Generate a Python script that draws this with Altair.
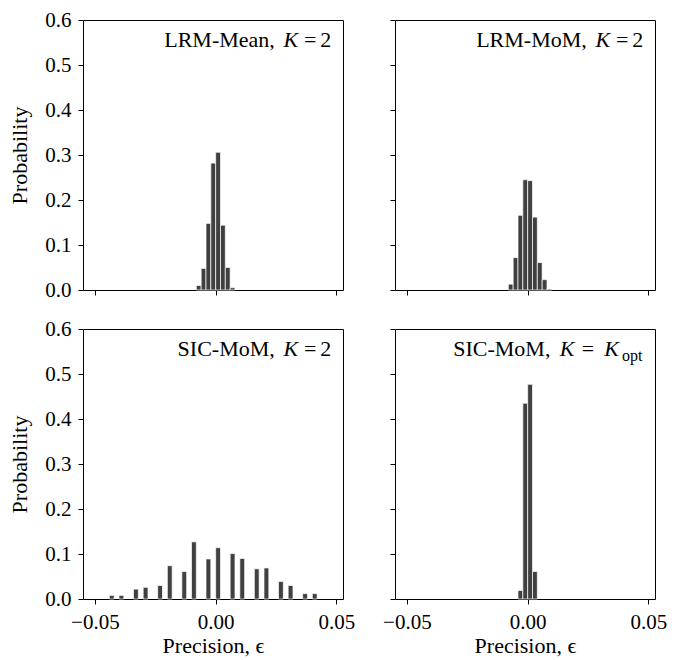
import altair as alt
import pandas as pd

# ---------------- data ----------------
BIN_WIDTH = 0.002

lrm_mean_lo = [-0.008, -0.006, -0.004, -0.002, 0.000, 0.002, 0.004, 0.006]
lrm_mean_p = [0.010, 0.048, 0.148, 0.282, 0.306, 0.144, 0.050, 0.005]

lrm_mom_lo = [-0.008, -0.006, -0.004, -0.002, 0.000, 0.002, 0.004, 0.006, 0.008]
lrm_mom_p = [0.013, 0.072, 0.166, 0.245, 0.243, 0.162, 0.061, 0.023, 0.002]

sic2_lo = [-0.044, -0.040, -0.034, -0.030, -0.024, -0.020, -0.014, -0.010, -0.004,
           0.000, 0.006, 0.010, 0.016, 0.020, 0.026, 0.030, 0.036, 0.040]
sic2_p = [0.008, 0.008, 0.022, 0.026, 0.030, 0.074, 0.061, 0.127, 0.089,
          0.114, 0.101, 0.090, 0.067, 0.069, 0.039, 0.030, 0.012, 0.012]

sicopt_lo = [-0.004, -0.002, 0.000, 0.002]
sicopt_p = [0.019, 0.435, 0.477, 0.061]

x_ticks = [-0.05, 0.0, 0.05]
y_ticks = [0.0, 0.1, 0.2, 0.3, 0.4, 0.5, 0.6]
x_domain = [-0.0549, 0.0527]
y_domain = [0.0, 0.6]

method_names = ["LRM-Mean,", "LRM-MoM,", "SIC-MoM,", "SIC-MoM,"]
k_symbol = "K"
eq_symbol = "="
k_two = "2"
k_opt_sub = "opt"
x_title = "Precision, ϵ"
y_title = "Probability"

FONT = "Liberation Serif"
W, H = 260, 270


def seg(text, x, align, italic=False, size=22, y=27):
    df = pd.DataFrame({"t": [text]})
    return alt.Chart(df).mark_text(
        align=align, baseline="alphabetic", font=FONT, fontSize=size,
        fontStyle="italic" if italic else "normal", color="black"
    ).encode(x=alt.value(x), y=alt.value(y), text="t:N")


def panel(lo, p, name, bottom, left, opt=False):
    df = pd.DataFrame({"lo": lo, "hi": [v + BIN_WIDTH for v in lo], "p": p})
    common = dict(labelFont=FONT, labelFontSize=21, labelColor="black",
                  titleFont=FONT, titleFontSize=22, titleFontWeight="normal",
                  titleColor="black", domain=False, grid=False,
                  tickColor="black", tickSize=5, tickWidth=1)
    xaxis = alt.Axis(values=x_ticks, format=".2f", labels=bottom,
                     title=x_title if bottom else None, labelFlush=False,
                     labelPadding=7, titlePadding=3, **common)
    yaxis = alt.Axis(values=y_ticks, format=".1f", labels=left,
                     title=y_title if left else None, labelPadding=7,
                     titlePadding=13, **common)
    bars = alt.Chart(df).mark_rect(
        color="#404040", stroke="white", strokeWidth=0.7
    ).encode(
        x=alt.X("lo:Q", scale=alt.Scale(domain=x_domain, nice=False, zero=False), axis=xaxis),
        x2="hi:Q",
        y=alt.Y("p:Q", scale=alt.Scale(domain=y_domain, nice=False), axis=yaxis),
        y2=alt.datum(0),
    )
    if not opt:
        E = 248.3
        texts = [
            seg(name, E - 56.5, "right"),
            seg(k_symbol, E - 40.5, "center", italic=True),
            seg(eq_symbol, E - 21, "center"),
            seg(k_two, E, "right"),
        ]
    else:
        texts = [
            seg(name, 155.4, "right"),
            seg(k_symbol, 172.0, "center", italic=True),
            seg(eq_symbol, 193.0, "center"),
            seg(k_symbol, 216.5, "center", italic=True),
            seg(k_opt_sub, 227.0, "left", size=16, y=32),
        ]
    return alt.layer(bars, *texts).properties(width=W, height=H)


tl = panel(lrm_mean_lo, lrm_mean_p, method_names[0], bottom=False, left=True)
tr = panel(lrm_mom_lo, lrm_mom_p, method_names[1], bottom=False, left=False)
bl = panel(sic2_lo, sic2_p, method_names[2], bottom=True, left=True)
br = panel(sicopt_lo, sicopt_p, method_names[3], bottom=True, left=False, opt=True)

chart = alt.concat(
    tl, tr, bl, br, columns=2, spacing={"row": 39, "column": 52}, bounds="flush"
).properties(
    padding={"left": 0, "top": 0, "right": 5, "bottom": 0}
).configure(
    font=FONT
).configure_view(
    stroke="black", strokeWidth=1
).configure_axis(
    domain=False, grid=False, tickColor="black", tickSize=5, tickWidth=1,
    labelFont=FONT, labelFontSize=21, labelColor="black",
    titleFont=FONT, titleFontSize=22, titleFontWeight="normal", titleColor="black",
)

chart.save("out.html", embed_options={"renderer": "svg", "actions": False})
